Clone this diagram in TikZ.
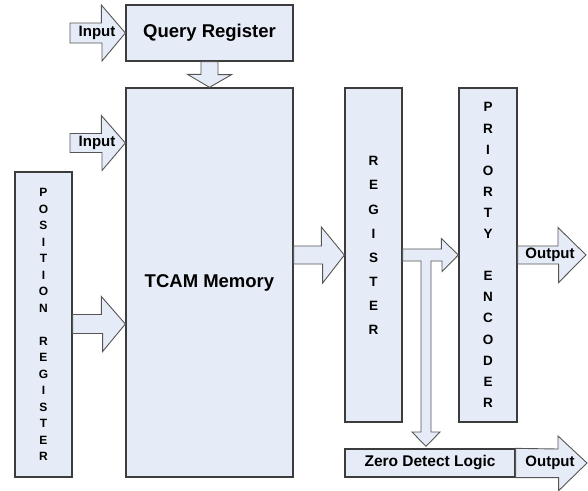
\documentclass[tikz,border=0pt]{standalone}
\usepackage{fontspec}
\setmainfont{Liberation Sans}
\definecolor{boxfill}{HTML}{E6ECF7}
\definecolor{edge}{HTML}{3C3C3C}
\definecolor{arredge}{HTML}{555555}
\tikzset{
  blk/.style={draw=edge, line width=1.3pt, fill=boxfill, inner sep=0pt, font=\bfseries},
  barrow/.style={draw=arredge, line width=0.9pt, fill=boxfill, line join=miter},
  lbl/.style={font=\bfseries\fontsize{15}{15}\selectfont, inner sep=0pt}
}
\begin{document}
\begin{tikzpicture}[x=1pt,y=-1pt]
\useasboundingbox (0,0) rectangle (588,490);
% blocks
\node[blk, minimum width=167pt, minimum height=56pt, font=\bfseries\fontsize{18.5}{20}\selectfont] (qr) at (209.5,33) {Query Register};
\node[blk, minimum width=167pt, minimum height=389pt, font=\bfseries\fontsize{18.5}{20}\selectfont] (tcam) at (209.5,282.5) {TCAM Memory};
\node[blk, minimum width=57pt, minimum height=305pt] (pos) at (43.5,324.5) {};
\node[blk, minimum width=57pt, minimum height=334pt] (reg) at (373.5,255) {};
\node[blk, minimum width=58pt, minimum height=334pt] (pe) at (488,255) {};
\node[blk, minimum width=170pt, minimum height=28pt, font=\bfseries\fontsize{15.5}{16}\selectfont] (zd) at (430,463) {Zero Detect Logic};
% vertical letter stacks
\node[font=\bfseries\fontsize{12}{16.5}\selectfont, align=center, inner sep=0pt] (postxt) at (pos.center) {P\\O\\S\\I\\T\\I\\O\\N\\[16.5pt]R\\E\\G\\I\\S\\T\\E\\R};
\node[font=\bfseries\fontsize{13.5}{24.1}\selectfont, align=center, inner sep=0pt] (regtxt) at ([yshift=9.5pt]reg.center) {R\\E\\G\\I\\S\\T\\E\\R};
\node[font=\bfseries\fontsize{13.5}{21.1}\selectfont, align=center, inner sep=0pt] (petxt) at (pe.center) {P\\R\\I\\O\\R\\T\\Y\\[21.1pt]E\\N\\C\\O\\D\\E\\R};
% block arrows
% Input -> Query Register
\coordinate (in1) at (70,33);
\draw[barrow] (qr.west) -- ++(-24,-28) -- ++(0,18) -- ([yshift=10pt]in1) -- ([yshift=-10pt]in1) -- ++(32,0) -- ++(0,18) -- cycle;
\node[lbl] (in1t) at (97,33) {Input};
% Input -> TCAM
\coordinate (in2) at (70,143);
\coordinate (t2) at (tcam.west |- in2);
\draw[barrow] (t2) -- ++(-24,-27.5) -- ++(0,18) -- ([yshift=9.5pt]in2) -- ([yshift=-9.5pt]in2) -- ++(32,0) -- ++(0,18) -- cycle;
\node[lbl] (in2t) at (97,143) {Input};
% Query Register -> TCAM (down)
\draw[barrow] (tcam.north) -- ++(-22,-13) -- ++(13.5,0) -- ([xshift=-8.5pt]qr.south) -- ([xshift=8.5pt]qr.south) -- ++(0,13) -- ++(13.5,0) -- cycle;
% Position register -> TCAM
\coordinate (t3) at (tcam.west |- 0,324);
\coordinate (p3) at (pos.east |- 0,324);
\draw[barrow] (t3) -- ++(-24,-27.5) -- ++(0,18) -- ([yshift=9.5pt]p3) -- ([yshift=-9.5pt]p3) -- ++(30,0) -- ++(0,18) -- cycle;
% TCAM -> Register
\coordinate (t4) at (tcam.east |- reg.west);
\draw[barrow] (reg.west) -- ++(-23,-28) -- ++(0,19) -- ([yshift=9pt]t4) -- ([yshift=-9pt]t4) -- ++(29,0) -- ++(0,19) -- cycle;
% Register -> Priority encoder, with branch down to Zero Detect Logic
\coordinate (zt) at ([yshift=2pt]zd.north -| 426,0);
\draw[barrow] (pe.west) -- ++(-17,-16.5) -- ++(0,10.5) -- ([yshift=6pt]reg.east) -- ([yshift=-6pt]reg.east) -- (421,261) -- (421,432) -- (412,432) -- (zt) -- (440,432) -- (431,432) -- (431,261) -- (442,261) -- (442,271.5) -- cycle;
% Priority encoder -> Output
\coordinate (o1) at (586,255);
\draw[barrow] (o1) -- ++(-28,-27.5) -- ++(0,18.5) -- ([yshift=9pt]pe.east) -- ([yshift=-9pt]pe.east) -- ++(41,0) -- ++(0,18.5) -- cycle;
\node[lbl] (o1t) at (550,255) {Output};
% Zero detect -> Output
\coordinate (o2) at (587,463);
\draw[barrow] (o2) -- ++(-29,-27) -- ++(0,13) -- (zd.north east) -- (zd.south east) -- ++(43,0) -- ++(0,13) -- cycle;
\node[lbl] (o2t) at (550,463) {Output};
\end{tikzpicture}
\end{document}
